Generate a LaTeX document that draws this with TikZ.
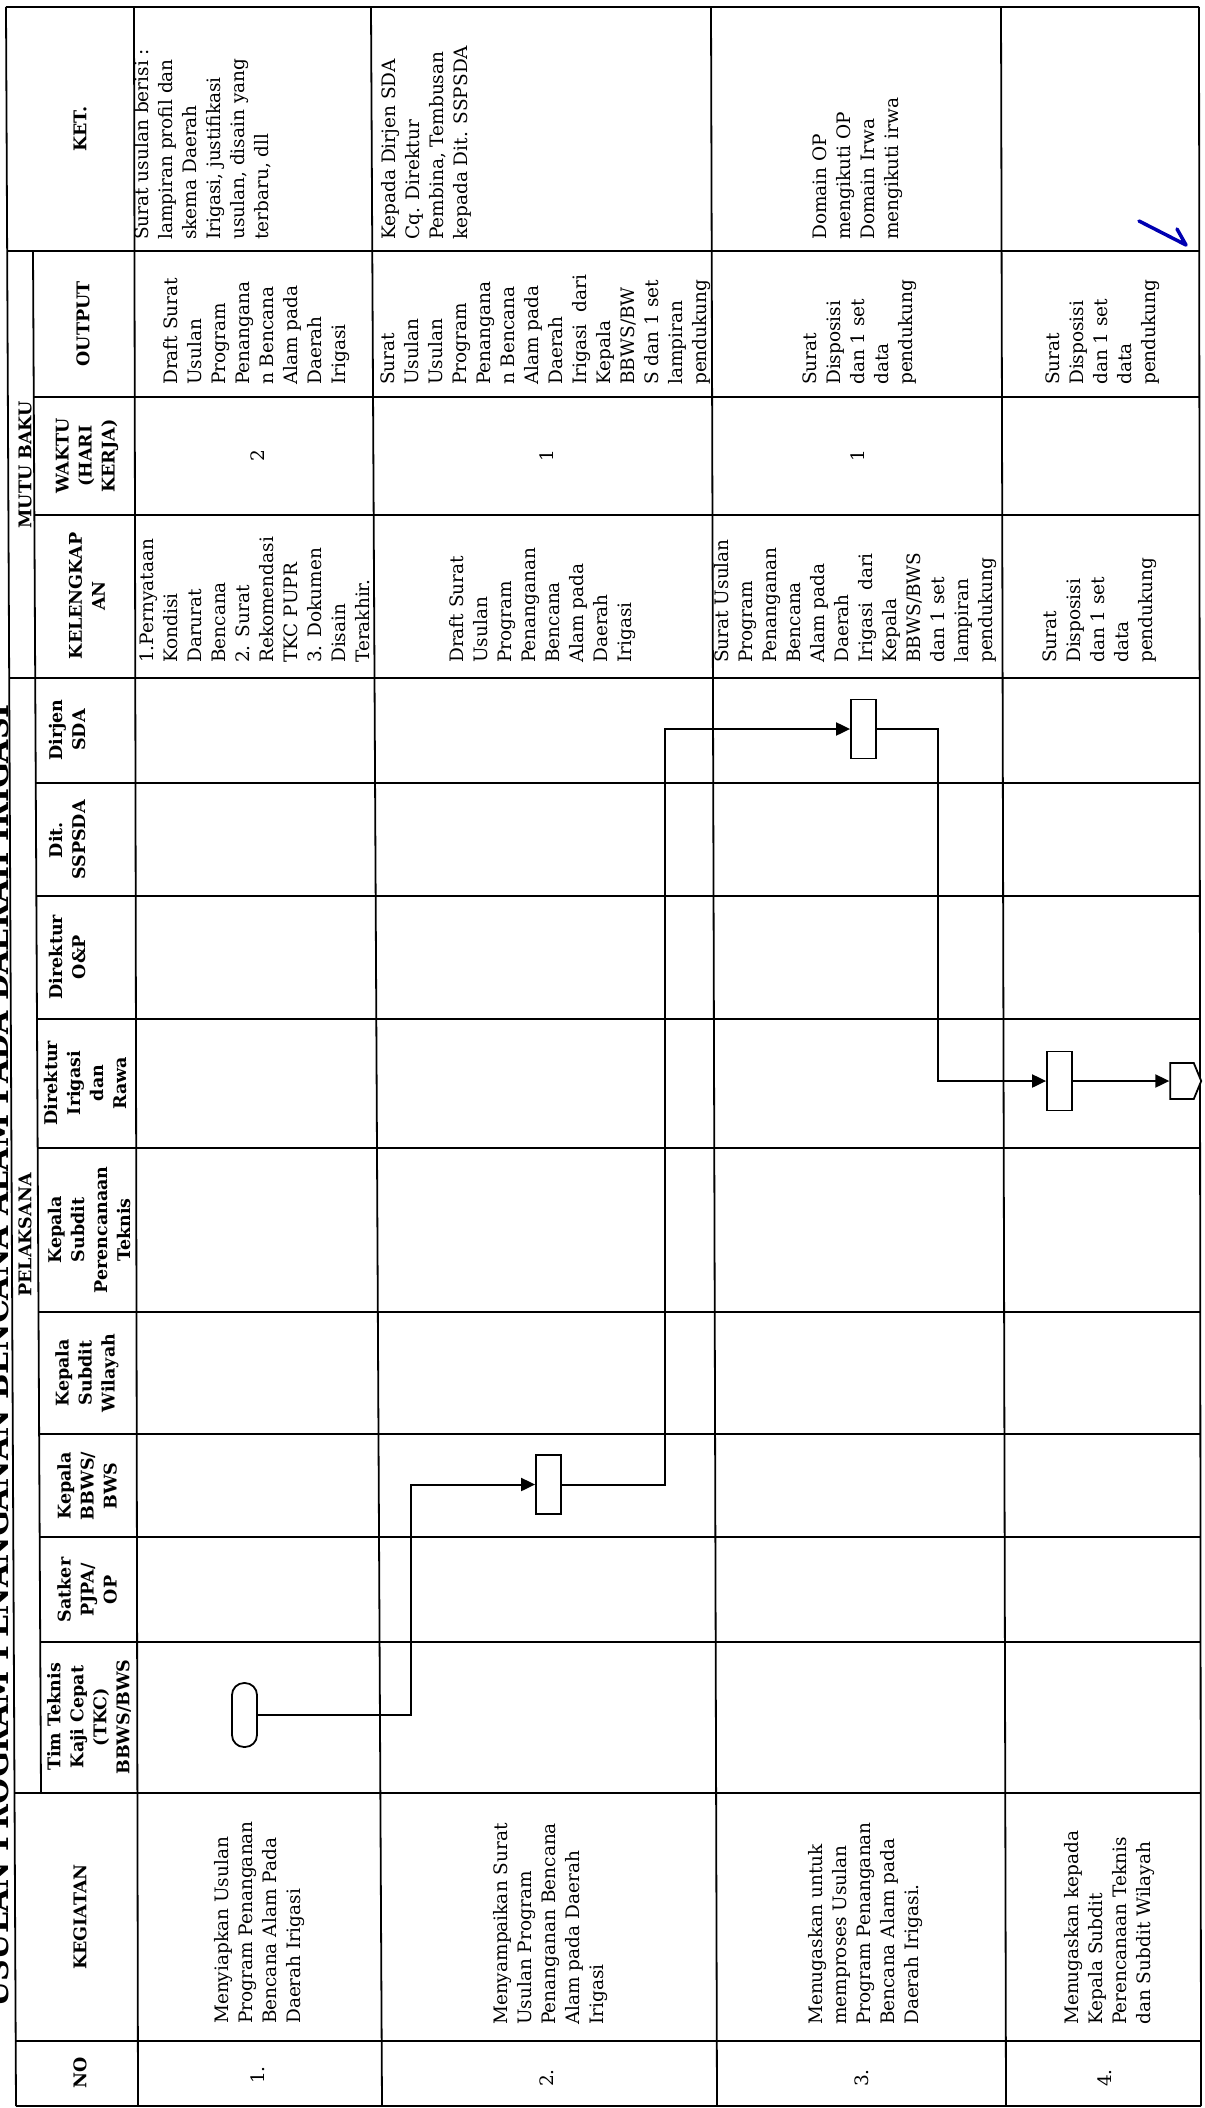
\documentclass[tikz,border=0pt]{standalone}
\usepackage{fontspec}
\setmainfont{DejaVu Serif}
\usetikzlibrary{arrows.meta,shapes.symbols}
\begin{document}
\begin{tikzpicture}[x=1pt,y=-1pt]
\tikzset{
 gridline/.style={line width=1.8pt},
 hd/.style={rotate=90, align=center, inner sep=0pt, font=\bfseries\fontsize{17.5}{23}\selectfont},
 bd/.style={rotate=90, align=left, inner sep=0pt, anchor=west, font=\fontsize{18.5}{24}\selectfont},
 num/.style={rotate=90, inner sep=0pt, font=\fontsize{18.5}{24}\selectfont},
 procbox/.style={draw, fill=white, line width=1.8pt, minimum width=25pt, minimum height=59pt, inner sep=0pt},
 termbox/.style={draw, fill=white, line width=1.8pt, rounded corners=12pt, minimum width=25pt, minimum height=64pt, inner sep=0pt},
 flowarrow/.style={line width=2pt, -{Triangle[length=14pt,width=13pt]}},
}
\useasboundingbox (0,0) rectangle (1204,2108);
\fill[white] (0,0) rectangle (1204,2108);

% title (cut at page edge)
\node[rotate=90, anchor=base west, inner sep=0pt, font=\bfseries\fontsize{30}{34}\selectfont] (title) at (9,2008) {USULAN PROGRAM PENANGANAN BENCANA ALAM PADA DAERAH IRIGASI};

% grid
\draw[gridline] (6,7) -- (1199,7);
\draw[gridline] (16,2106) -- (1201,2106);
\draw[gridline] (6,7) -- (16,2106);
\draw[gridline] (1199,7) -- (1201,2106);
\draw[gridline] (33,251) -- (41,1793);
\draw[gridline] (134,7) -- (138,2106);
\draw[gridline] (371,7) -- (382,2106);
\draw[gridline] (711,7) -- (717,2106);
\draw[gridline] (1001,7) -- (1006,2106);
\foreach \yy/\xx in {251/7.2, 678/9.2, 1793/14.5, 2041/15.7}
  \draw[gridline] (\xx,\yy) -- (1200,\yy);
\foreach \yy/\xx in {397/33.8, 515/34.4, 783/35.8, 896/36.3, 1019/37.0, 1148/37.7, 1312/38.5, 1434/39.1, 1537/39.7, 1642/40.2}
  \draw[gridline] (\xx,\yy) -- (1200,\yy);

% headers
\node[hd] (hNO) at (80,2073) {NO};
\node[hd] (hKEG) at (80,1917) {KEGIATAN};
\node[hd] (hPEL) at (25,1235) {PELAKSANA};
\node[hd] (hMUTU) at (25,465) {MUTU BAKU};
\node[hd] (hTim) at (89,1717) {Tim Teknis\\Kaji Cepat\\(TKC)\\BBWS/BWS};
\node[hd] (hSat) at (87,1590) {Satker\\PJPA/\\OP};
\node[hd] (hKBB) at (87,1486) {Kepala\\BBWS/\\BWS};
\node[hd] (hKSW) at (87,1373) {Kepala\\Subdit\\Wilayah};
\node[hd] (hKSP) at (89,1230) {Kepala\\Subdit\\Perencanaan\\Teknis};
\node[hd] (hDIR) at (85,1083) {Direktur\\Irigasi\\dan\\Rawa};
\node[hd] (hDOP) at (67,957) {Direktur\\O\&P};
\node[hd] (hDIT) at (67,840) {Dit.\\SSPSDA};
\node[hd] (hDSDA) at (67,730) {Dirjen\\SDA};
\node[hd] (hKEL) at (87,596) {KELENGKAP\\AN};
\node[hd] (hWAK) at (87,456) {WAKTU\\(HARI\\KERJA)};
\node[hd] (hOUT) at (83,324) {OUTPUT};
\node[hd] (hKET) at (80,129) {KET.};

% row 1
\node[num] (n1) at (258,2075) {1.};
\node[bd] (k1) at (260,2024) {Menyiapkan Usulan\\Program Penanganan\\Bencana Alam Pada\\Daerah Irigasi};
\node[bd] (kel1) at (255,663) {1.Pernyataan\\Kondisi\\Darurat\\Bencana\\2. Surat\\Rekomendasi\\TKC PUPR\\3. Dokumen\\Disain\\Terakhir.};
\node[num] (w1) at (258,456) {2};
\node[bd] (o1) at (257,385) {Draft Surat\\Usulan\\Program\\Penangana\\n Bencana\\Alam pada\\Daerah\\Irigasi};
\node[bd] (ket1) at (203,240) {Surat usulan berisi :\\lampiran profil dan\\skema Daerah\\Irigasi, justifikasi\\usulan, disain yang\\terbaru, dll};

% row 2
\node[num] (n2) at (547,2078) {2.};
\node[bd] (k2) at (551,2025) {Menyampaikan Surat\\Usulan Program\\Penanganan Bencana\\Alam pada Daerah\\Irigasi};
\node[bd] (kel2) at (543,663) {Draft Surat\\Usulan\\Program\\Penanganan\\Bencana\\Alam pada\\Daerah\\Irigasi};
\node[num] (w2) at (547,456) {1};
\node[bd] (o2) at (546,385) {Surat\\Usulan\\Usulan\\Program\\Penangana\\n Bencana\\Alam pada\\Daerah\\Irigasi~~dari\\Kepala\\BBWS/BW\\S dan 1 set\\lampiran\\pendukung};
\node[bd] (ket2) at (426,240) {Kepada Dirjen SDA\\Cq. Direktur\\Pembina, Tembusan\\kepada Dit. SSPSDA};

% row 3
\node[num] (n3) at (862,2078) {3.};
\node[bd] (k3) at (866,2025) {Menugaskan untuk\\memproses Usulan\\Program Penanganan\\Bencana Alam pada\\Daerah Irigasi.};
\node[bd] (kel3) at (856,663) {Surat Usulan\\Program\\Penanganan\\Bencana\\Alam pada\\Daerah\\Irigasi~~dari\\Kepala\\BBWS/BWS\\dan 1 set\\lampiran\\pendukung};
\node[num] (w3) at (858,456) {1};
\node[bd] (o3) at (860,385) {Surat\\Disposisi\\dan 1 set\\data\\pendukung};
\node[bd] (ket3) at (858,240) {Domain OP\\mengikuti OP\\Domain Irwa\\mengikuti irwa};

% row 4
\node[num] (n4) at (1105,2078) {4.};
\node[bd] (k4) at (1110,2025) {Menugaskan kepada\\Kepala Subdit\\Perencanaan Teknis\\dan Subdit Wilayah};
\node[bd] (kel4) at (1100,663) {Surat\\Disposisi\\dan 1 set\\data\\pendukung};
\node[bd] (o4) at (1103,385) {Surat\\Disposisi\\dan 1 set\\data\\pendukung};

% blue pen mark
\draw[blue!70!black, line width=3.5pt, line cap=round, line join=round] (1139,221) -- (1186,245) -- (1177,229);

% flow
\coordinate (c1) at (411,1715);
\coordinate (c2) at (665,1484.5);
\coordinate (c3) at (938,729);
\node[termbox] (term) at (244.5,1715) {};
\node[procbox] (box1) at (548.5,1484.5) {};
\node[procbox] (box2) at (863.5,729) {};
\node[procbox] (box3) at (1059.5,1081) {};
\node[draw, fill=white, shape=signal, signal to=east, signal pointer angle=135, line width=1.8pt, minimum width=31pt, minimum height=36pt, inner sep=0pt] (offp) at (1182,1081) {};
\draw[flowarrow] (term.east) -- (c1) |- (box1.west);
\draw[flowarrow] (box1.east) -- (c2) |- (box2.west);
\draw[flowarrow] (box2.east) -- (c3) |- (box3.west);
\draw[flowarrow] (box3.east) -- (offp.west);
\end{tikzpicture}
\end{document}
